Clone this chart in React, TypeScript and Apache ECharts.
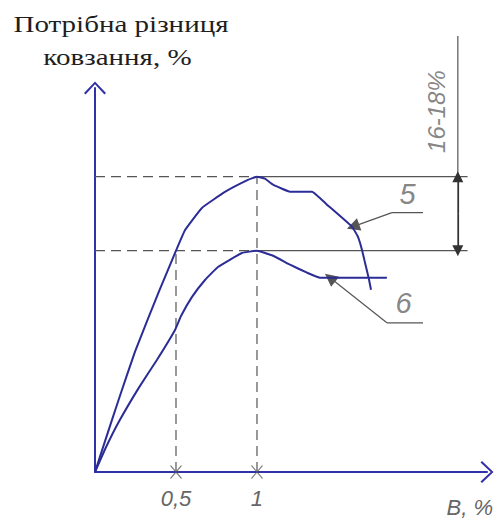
import React, { useEffect, useRef } from "react";
import * as echarts from "echarts";

// ---- data (x: В, %, y: required slip difference, arbitrary % units) ----
const curve5: [number, number][] = [
  [0, 0], [0.062, 1.9], [0.148, 4.5], [0.247, 7.4], [0.395, 11.1],
  [0.5, 13.6], [0.556, 14.87], [0.66, 16.23], [0.802, 17.21], [0.944, 17.95], [1.0, 18.15],
  [1.049, 18.03], [1.099, 17.66], [1.204, 17.23], [1.34, 17.23], [1.432, 16.43],
  [1.586, 15.08], [1.623, 14.46], [1.648, 13.66], [1.667, 12.86], [1.69, 11.9], [1.704, 11.2],
];
const curve6: [number, number][] = [
  [0, 0], [0.062, 1.4], [0.148, 3.1], [0.272, 5.2], [0.383, 6.9], [0.494, 8.73],
  [0.531, 9.59], [0.599, 10.76], [0.679, 11.8], [0.759, 12.6], [0.907, 13.46], [1.0, 13.6],
  [1.099, 13.29], [1.204, 12.74], [1.309, 12.25], [1.389, 11.94], [1.802, 11.94],
];
const xTicks = [0.5, 1];
const xTickLabels = ["0,5", "1"];
const upperLevel = 18.15;
const lowerLevel = 13.6;
const shelfEndX = 2.3;
const dimX = 2.24;
const dimTop = 26.8;
const leader5: [number, number][] = [[1.593, 15.08], [1.833, 15.94], [2.025, 15.94]];
const leader6: [number, number][] = [[1.451, 11.94], [1.802, 9.17], [2.025, 9.17]];
const curveLabels = [
  { name: "5", value: [1.93, 17.1] },
  { name: "6", value: [1.905, 10.4] },
];
const dimLabel = { name: "16-18%", value: [2.11, 22.15] };
const titleLines = ["Потрібна різниця", "ковзання, %"];
const xName = "В, %";

const AXIS = "#3232a8";
const CURVE = "#2c2c96";
const GRAY = "#555";
const TEXT_GRAY = "#666";
const TECH_FONT = "Liberation Sans";
const SERIF_FONT = "Liberation Serif";

const chevron = "path://M11,0 L22,11.5 L20.4,13 L11,2.8 L1.6,13 L0,11.5 Z";

function seg(a: [number, number], b: [number, number], dashed: boolean, clip = true) {
  return {
    type: "line",
    data: [a, b],
    symbol: "none",
    silent: true,
    clip,
    lineStyle: { color: GRAY, width: 1.2, type: dashed ? [10, 6] : "solid" },
    z: 2,
  };
}

export default function App() {
  const ref = useRef<HTMLDivElement>(null);
  useEffect(() => {
    document.body.style.margin = "0";
    if (!ref.current) return;
    const chart = echarts.init(ref.current, undefined, { renderer: "svg" });
    const mid = (upperLevel + lowerLevel) / 2;
    chart.setOption({
      animation: false,
      grid: { left: 95, top: 88, right: 15, bottom: 48 },
      xAxis: {
        type: "value",
        min: 0,
        max: 2.42,
        interval: 0.5,
        splitLine: { show: false },
        axisTick: { show: false },
        axisLine: {
          lineStyle: { color: AXIS, width: 2 },
          symbol: ["none", chevron],
          symbolSize: [22, 13],
        },
        axisLabel: {
          margin: 15,
          fontFamily: TECH_FONT,
          fontStyle: "italic",
          fontSize: 22,
          color: TEXT_GRAY,
          formatter: (v: number) => {
            const i = xTicks.indexOf(v);
            return i >= 0 ? xTickLabels[i] : "";
          },
        },
      },
      yAxis: {
        type: "value",
        min: 0,
        max: 23.6,
        splitLine: { show: false },
        axisTick: { show: false },
        axisLabel: { show: false },
        axisLine: {
          lineStyle: { color: AXIS, width: 2 },
          symbol: ["none", chevron],
          symbolSize: [22, 13],
        },
      },
      graphic: [
        ...titleLines.map((t, i) => ({
          type: "text",
          x: i === 0 ? 121 : 117.5,
          y: 12 + i * 33,
          scaleX: 1.21,
          style: {
            text: t,
            fontFamily: SERIF_FONT,
            fontSize: 24,
            align: "center",
            verticalAlign: "top",
            fill: "#1e1e1e",
          },
        })),
        {
          type: "text",
          right: 9,
          top: 496,
          style: {
            text: xName,
            fontFamily: TECH_FONT,
            fontStyle: "italic",
            fontSize: 22,
            fill: TEXT_GRAY,
          },
        },
      ],
      series: [
        seg([0, upperLevel], [1, upperLevel], true),
        seg([0, lowerLevel], [1, lowerLevel], true),
        seg([xTicks[0], 0], [xTicks[0], lowerLevel], true),
        seg([xTicks[1], 0], [xTicks[1], upperLevel], true),
        seg([1, upperLevel], [shelfEndX, upperLevel], false),
        seg([1, lowerLevel], [shelfEndX, lowerLevel], false),
        seg([dimX, lowerLevel], [dimX, dimTop], false, false),
        seg(leader5[1], leader5[2], false),
        seg(leader6[1], leader6[2], false),
        {
          type: "lines",
          coordinateSystem: "cartesian2d",
          clip: false,
          symbol: ["none", "triangle"],
          symbolSize: [5, 11],
          lineStyle: { color: "#333", width: 1.2, opacity: 1 },
          data: [
            { coords: [[dimX, mid], [dimX, upperLevel]] },
            { coords: [[dimX, mid], [dimX, lowerLevel]] },
          ],
          z: 3,
        },
        {
          type: "lines",
          coordinateSystem: "cartesian2d",
          symbol: ["none", "triangle"],
          symbolSize: [5, 13],
          lineStyle: { color: GRAY, width: 1.2, opacity: 1 },
          data: [
            { coords: [leader5[1], leader5[0]] },
            { coords: [leader6[1], leader6[0]] },
          ],
          z: 3,
        },
        {
          type: "line",
          data: curve5,
          symbol: "none",
          smooth: 0.1,
          lineStyle: { color: CURVE, width: 2 },
          z: 5,
        },
        {
          type: "line",
          data: curve6,
          symbol: "none",
          smooth: 0.1,
          lineStyle: { color: CURVE, width: 2 },
          z: 5,
        },
        {
          type: "scatter",
          data: xTicks.map((x) => [x, 0]),
          symbol: "path://M0,0L10,12M10,0L0,12",
          symbolSize: [11, 13],
          itemStyle: { color: "rgba(0,0,0,0)", borderColor: GRAY, borderWidth: 1 },
          silent: true,
          z: 6,
        },
        {
          type: "scatter",
          data: curveLabels,
          symbolSize: 0,
          silent: true,
          label: {
            show: true,
            position: "inside",
            formatter: "{b}",
            fontFamily: TECH_FONT,
            fontStyle: "italic",
            fontSize: 29,
            color: TEXT_GRAY,
          },
        },
        {
          type: "scatter",
          data: [dimLabel],
          symbolSize: 0,
          silent: true,
          label: {
            show: true,
            position: "inside",
            formatter: "{b}",
            rotate: 90,
            fontFamily: TECH_FONT,
            fontStyle: "italic",
            fontSize: 24,
            color: TEXT_GRAY,
          },
        },
      ],
    });
    return () => chart.dispose();
  }, []);
  return <div ref={ref} style={{ width: 502, height: 520 }} />;
}
